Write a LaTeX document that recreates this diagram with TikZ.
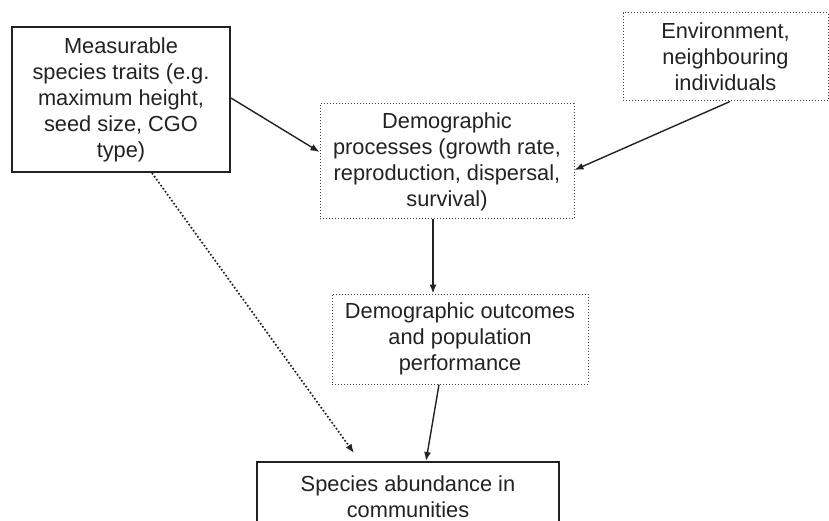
\documentclass[tikz,border=0pt]{standalone}
\usepackage{fontspec}
\setmainfont{Liberation Sans}
\usetikzlibrary{arrows.meta}
\definecolor{ink}{HTML}{222222}
\tikzset{
  boxtext/.style={align=center, text=ink, font=\fontsize{21.8}{26}\selectfont, inner sep=0pt},
  solidbox/.style={boxtext, draw=ink, line width=2pt},
  dotbox/.style={boxtext, draw=ink!85, line width=1pt, dotted},
  conn/.style={draw=ink, line width=1.4pt, -{Latex[length=9pt,width=7pt]}},
  dotconn/.style={draw=ink, line width=1.7pt, dash pattern=on 1.7pt off 2pt, -{Latex[length=9pt,width=7pt]}}
}
\begin{document}
\begin{tikzpicture}[x=1pt,y=-1pt]
\useasboundingbox (0,0) rectangle (829,521);
\node[solidbox, minimum width=218pt, minimum height=145pt] (A) at (121,99.5)
  {Measurable\\species traits (e.g.\\maximum height,\\seed size, CGO\\type)};
\node[dotbox, minimum width=254pt, minimum height=115pt] (B) at (447,161.5)
  {Demographic\\processes (growth rate,\\reproduction, dispersal,\\survival)};
\node[dotbox, minimum width=205pt, minimum height=88pt] (C) at (725.5,57)
  {Environment,\\neighbouring\\individuals};
\node[dotbox, minimum width=256pt, minimum height=90pt] (D) at (460,339)
  {Demographic outcomes\\and population\\performance};
\node[solidbox, minimum width=302pt, minimum height=70pt] (E) at (408,497)
  {Species abundance in\\communities};
\draw[conn] ([yshift=1.5pt]A.east) -- ([yshift=9.5pt]B.west);
\draw[conn] ([xshift=4.5pt]C.south) -- ([yshift=-8.5pt]B.east);
\draw[conn] ([xshift=-14pt]B.south) -- ([xshift=-27pt]D.north);
\draw[conn] ([xshift=-21pt]D.south) -- ([xshift=18pt]E.north);
\draw[dotconn] ([xshift=31pt]A.south) -- ([xshift=98pt,yshift=8pt]E.north west);
\end{tikzpicture}
\end{document}
